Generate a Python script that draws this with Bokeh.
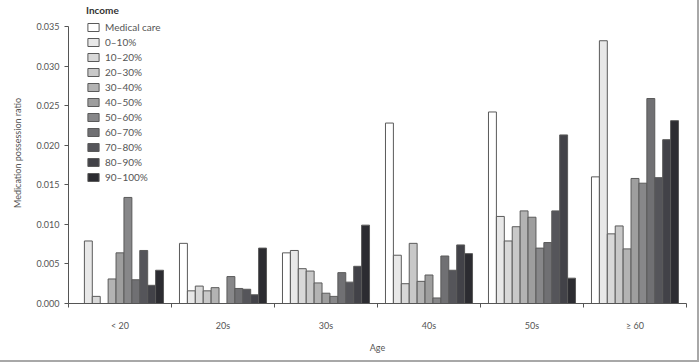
from bokeh.plotting import figure
from bokeh.models import ColumnDataSource, FixedTicker, Legend, LegendItem, NumeralTickFormatter
from bokeh.embed import file_html
from bokeh.resources import INLINE

ages = ["< 20", "20s", "30s", "40s", "50s", "\u2265 60"]
income = ["Medical care", "0\u201310%", "10\u201320%", "20\u201330%", "30\u201340%", "40\u201350%",
          "50\u201360%", "60\u201370%", "70\u201380%", "80\u201390%", "90\u2013100%"]

medical = [0.0, 0.0076, 0.0064, 0.0228, 0.0242, 0.0160]
inc_0_10 = [0.0079, 0.0016, 0.0067, 0.0061, 0.0110, 0.0332]
inc_10_20 = [0.0009, 0.0022, 0.0044, 0.0025, 0.0079, 0.0088]
inc_20_30 = [0.0, 0.0016, 0.0041, 0.0076, 0.0097, 0.0098]
inc_30_40 = [0.0031, 0.0020, 0.0026, 0.0028, 0.0117, 0.0069]
inc_40_50 = [0.0064, 0.0, 0.0013, 0.0036, 0.0109, 0.0158]
inc_50_60 = [0.0134, 0.0034, 0.0009, 0.0007, 0.0070, 0.0152]
inc_60_70 = [0.0030, 0.0019, 0.0039, 0.0060, 0.0077, 0.0259]
inc_70_80 = [0.0067, 0.0018, 0.0027, 0.0042, 0.0117, 0.0159]
inc_80_90 = [0.0023, 0.0011, 0.0047, 0.0074, 0.0213, 0.0207]
inc_90_100 = [0.0042, 0.0070, 0.0099, 0.0063, 0.0032, 0.0231]

series = [medical, inc_0_10, inc_10_20, inc_20_30, inc_30_40, inc_40_50,
          inc_50_60, inc_60_70, inc_70_80, inc_80_90, inc_90_100]
colors = ["#ffffff", "#e8e8e8", "#d8d8d8", "#c8c8c8", "#b3b3b3", "#9e9e9e",
          "#878789", "#707073", "#55555a", "#424248", "#2c2c31"]

y_ticks = [0.0, 0.005, 0.010, 0.015, 0.020, 0.025, 0.030, 0.035]
y_max = 0.035

FONT = "Lato"
TXT = "#555555"

# frame extends 24 px above the 0.035 tick so the legend title fits inside it
px_per_unit = 277 / y_max
p = figure(width=697, height=362, frame_width=618, frame_height=301,
           x_range=(0, len(ages)), y_range=(0, y_max + 24 / px_per_unit),
           output_backend="svg", toolbar_location=None,
           min_border_left=68, min_border_right=11, min_border_top=2, min_border_bottom=57)
p.styles = {"border-right": "2px solid #a8a8a8", "border-bottom": "2px solid #a8a8a8"}

n = len(series)
bw = 0.845 / n
items = []
for j, (vals, col, name) in enumerate(zip(series, colors, income)):
    xs = [i + 0.5 + (j - (n - 1) / 2) * bw for i in range(len(ages))]
    src = ColumnDataSource(dict(x=xs, top=vals))
    r = p.vbar(x="x", top="top", width=bw, bottom=0, source=src,
               fill_color=col, line_color="#5a5a5a", line_width=1)
    items.append(LegendItem(label=name, renderers=[r]))

legend = Legend(items=items, location=(18, 119), title="Income",
                title_text_font=FONT, title_text_font_style="bold",
                title_text_font_size="10px", title_text_color="#333333", title_standoff=3,
                label_text_font=FONT, label_text_font_size="10px", label_text_color=TXT,
                glyph_width=14, glyph_height=10, label_height=15, spacing=0,
                padding=0, margin=0, border_line_color=None, background_fill_alpha=0,
                label_standoff=5)
p.add_layout(legend, "center")

p.grid.visible = False
p.outline_line_color = None
p.background_fill_color = "white"
p.border_fill_color = "white"

# y axis
p.yaxis.bounds = (0, y_max)
p.yaxis.ticker = FixedTicker(ticks=y_ticks)
p.yaxis.formatter = NumeralTickFormatter(format="0.000")
p.yaxis.axis_label = "Medication possession ratio"
p.yaxis.axis_label_text_font = FONT
p.yaxis.axis_label_text_font_style = "normal"
p.yaxis.axis_label_text_font_size = "9px"
p.yaxis.axis_label_text_color = TXT
p.yaxis.axis_label_standoff = 10
p.yaxis.major_label_text_font = FONT
p.yaxis.major_label_text_font_size = "9px"
p.yaxis.major_label_text_color = TXT
p.yaxis.major_tick_out = 4
p.yaxis.major_tick_in = 0
p.yaxis.minor_tick_line_color = None
p.yaxis.axis_line_color = "#555555"
p.yaxis.major_tick_line_color = "#555555"

# x axis
p.xaxis.ticker = FixedTicker(ticks=[i + 0.5 for i in range(len(ages))],
                             minor_ticks=list(range(len(ages) + 1)))
p.xaxis.major_label_overrides = {i + 0.5: a for i, a in enumerate(ages)}
p.xaxis.major_tick_line_color = None
p.xaxis.minor_tick_line_color = "#555555"
p.xaxis.minor_tick_out = 4
p.xaxis.minor_tick_in = 0
p.xaxis.major_label_standoff = 10
p.xaxis.axis_label = "Age"
p.xaxis.axis_label_text_font = FONT
p.xaxis.axis_label_text_font_style = "normal"
p.xaxis.axis_label_text_font_size = "9px"
p.xaxis.axis_label_text_color = TXT
p.xaxis.axis_label_standoff = 8
p.xaxis.major_label_text_font = FONT
p.xaxis.major_label_text_font_size = "9px"
p.xaxis.major_label_text_color = TXT
p.xaxis.axis_line_color = "#555555"

open("out.html", "w").write(file_html(p, INLINE))
